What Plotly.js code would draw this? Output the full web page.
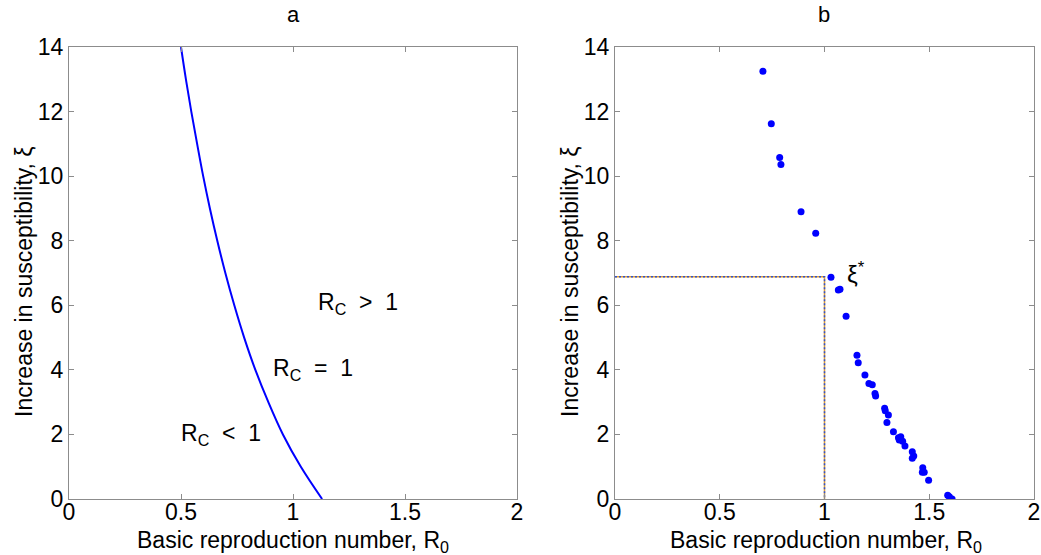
<!DOCTYPE html>
<html>
<head>
<meta charset="utf-8">
<script src="https://cdn.plot.ly/plotly-3.0.1.min.js"></script>
<style>html,body{margin:0;padding:0;background:#fff;}#chart{width:1041px;height:555px;}</style>
</head>
<body>
<div id="chart"></div>
<script>
// Panel a: threshold curve R_C = 1
const curveXi = [0, 1, 2, 3, 4, 5, 6, 7, 8, 9, 10, 11, 12, 13, 14];
const curveR0 = [1.13, 1.035, 0.955, 0.89, 0.832, 0.782, 0.738, 0.698, 0.662, 0.629, 0.599, 0.572, 0.546, 0.522, 0.50];

// Panel b: scatter points
const ptsR0 = [0.706, 0.746, 0.786, 0.792, 0.888, 0.958, 1.031, 1.066, 1.074, 1.103, 1.155, 1.161, 1.193, 1.212, 1.228, 1.241, 1.244, 1.287, 1.290, 1.305, 1.298, 1.329, 1.353, 1.364, 1.357, 1.373, 1.384, 1.419, 1.426, 1.419, 1.469, 1.467, 1.476, 1.497, 1.588, 1.596, 1.609];
const ptsXi = [13.25, 11.62, 10.58, 10.36, 8.90, 8.23, 6.87, 6.47, 6.50, 5.66, 4.45, 4.22, 3.84, 3.58, 3.54, 3.27, 3.19, 2.81, 2.73, 2.60, 2.37, 2.08, 1.90, 1.93, 1.83, 1.79, 1.64, 1.46, 1.33, 1.26, 0.97, 0.83, 0.83, 0.58, 0.12, 0.07, 0.0];

// Panel b: threshold guide (xi* at R0 = 1)
const guideR0 = [0, 1, 1];
const guideXi = [6.88, 6.88, 0];

const xTicks = [0, 0.5, 1, 1.5, 2];
const xTickText = ['0', '0.5', '1', '1.5', '2'];
const yTicks = [0, 2, 4, 6, 8, 10, 12, 14];
const yTickText = ['0', '2', '4', '6', '8', '10', '12', '14'];

const xTitle = 'Basic reproduction number, R<sub>0</sub>';
const yTitle = 'Increase in susceptibility, ξ';

const FONT = 'Liberation Sans, Arial, sans-serif';

const traces = [
  {x: curveR0, y: curveXi, type: 'scatter', mode: 'lines', line: {color: '#0000ff', width: 2, shape: 'spline', smoothing: 1}, xaxis: 'x', yaxis: 'y', hoverinfo: 'skip'},
  {x: guideR0, y: guideXi, type: 'scatter', mode: 'lines', line: {color: '#e0a030', width: 1.5}, xaxis: 'x2', yaxis: 'y2', hoverinfo: 'skip'},
  {x: guideR0, y: guideXi, type: 'scatter', mode: 'lines', line: {color: '#3050d0', width: 1.5, dash: '2px,2px'}, xaxis: 'x2', yaxis: 'y2', hoverinfo: 'skip'},
  {x: ptsR0, y: ptsXi, type: 'scatter', mode: 'markers', marker: {color: '#0000ff', size: 7}, xaxis: 'x2', yaxis: 'y2'}
];

function xax(domain, anchor) {
  return {
    domain: domain, range: [0, 2], tickvals: xTicks, ticktext: xTickText, anchor: anchor,
    ticks: 'inside', ticklen: 5, tickcolor: '#8c8c8c', showline: true, linecolor: '#8c8c8c', linewidth: 1,
    mirror: 'ticks', showgrid: false, zeroline: false, ticklabelstandoff: -8,
    tickfont: {family: FONT, size: 23, color: '#000'}
  };
}
function yax(domain, anchor) {
  return {
    domain: domain, range: [0, 14], tickvals: yTicks, ticktext: yTickText, anchor: anchor,
    ticks: 'inside', ticklen: 5, tickcolor: '#8c8c8c', showline: true, linecolor: '#8c8c8c', linewidth: 1,
    mirror: 'ticks', showgrid: false, zeroline: false,
    tickfont: {family: FONT, size: 23, color: '#000'}
  };
}

const yDom = [1 - 499 / 555, 1 - 47 / 555];
const titleFont = {family: FONT, size: 23, color: '#000'};
const layout = {
  width: 1041, height: 555,
  margin: {l: 0, r: 0, t: 0, b: 0},
  paper_bgcolor: '#fff', plot_bgcolor: '#fff',
  showlegend: false,
  font: {family: FONT, size: 23, color: '#000'},
  xaxis: xax([69 / 1041, 517 / 1041], 'y'),
  yaxis: yax(yDom, 'x'),
  xaxis2: xax([615 / 1041, 1034 / 1041], 'y2'),
  yaxis2: yax(yDom, 'x2'),
  annotations: [
    {text: 'a', x: 293 / 1041, y: 1 - 15 / 555, xref: 'paper', yref: 'paper', xanchor: 'center', yanchor: 'middle', showarrow: false, font: {family: FONT, size: 22}},
    {text: 'b', x: 824 / 1041, y: 1 - 15 / 555, xref: 'paper', yref: 'paper', xanchor: 'center', yanchor: 'middle', showarrow: false, font: {family: FONT, size: 22}},
    {text: xTitle, x: 293 / 1041, y: 1 - 541 / 555, xref: 'paper', yref: 'paper', xanchor: 'center', yanchor: 'middle', showarrow: false, font: titleFont},
    {text: xTitle, x: 826 / 1041, y: 1 - 541 / 555, xref: 'paper', yref: 'paper', xanchor: 'center', yanchor: 'middle', showarrow: false, font: titleFont},
    {text: yTitle, x: 24 / 1041, y: 1 - 282 / 555, xref: 'paper', yref: 'paper', xanchor: 'center', yanchor: 'middle', textangle: -90, showarrow: false, font: titleFont},
    {text: yTitle, x: 570 / 1041, y: 1 - 282 / 555, xref: 'paper', yref: 'paper', xanchor: 'center', yanchor: 'middle', textangle: -90, showarrow: false, font: titleFont},
    {text: 'R<sub>C</sub>  >  1', x: 1.29, y: 6.05, xref: 'x', yref: 'y', showarrow: false, font: {family: FONT, size: 23}},
    {text: 'R<sub>C</sub>  =  1', x: 1.09, y: 4.0, xref: 'x', yref: 'y', showarrow: false, font: {family: FONT, size: 23}},
    {text: 'R<sub>C</sub>  <  1', x: 0.68, y: 2.0, xref: 'x', yref: 'y', showarrow: false, font: {family: FONT, size: 23}},
    {text: 'ξ<sup>*</sup>', x: 1.10, y: 7.0, xref: 'x2', yref: 'y2', xanchor: 'left', showarrow: false, font: {family: FONT, size: 24}}
  ]
};

Plotly.newPlot('chart', traces, layout, {displayModeBar: false, staticPlot: true});
</script>
</body>
</html>
